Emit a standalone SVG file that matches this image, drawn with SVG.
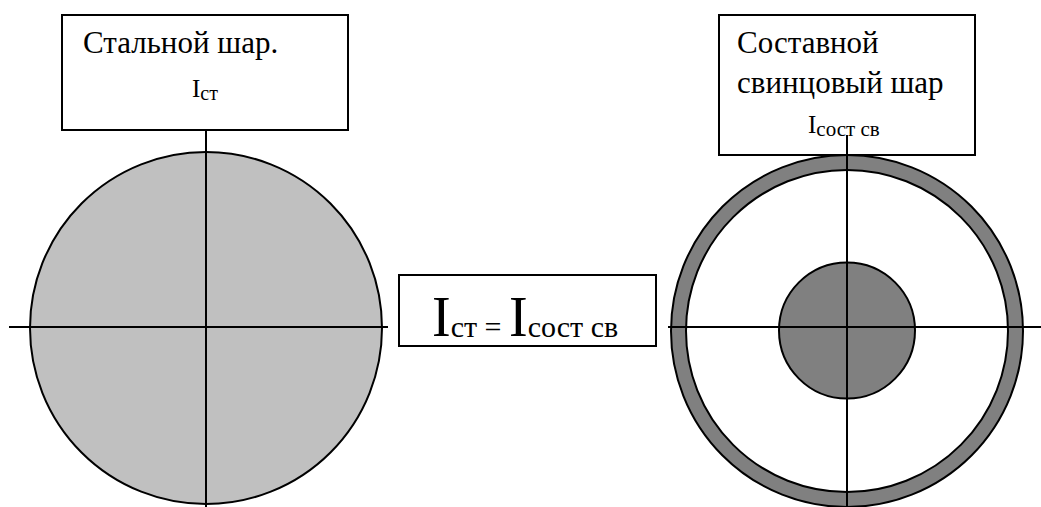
<svg xmlns="http://www.w3.org/2000/svg" width="1041" height="507" viewBox="0 0 1041 507">
  <style>
    .box { fill: #ffffff; stroke: #000000; stroke-width: 2; }
    .edge { stroke: #000000; stroke-width: 2; fill: none; }
    .disc { stroke: #000000; stroke-width: 2; }
    .t { font-family: "Liberation Serif", "Times New Roman", serif; fill: #000000; }
  </style>

  <!-- steel ball -->
  <g id="steel-ball">
    <circle class="disc" cx="206" cy="328" r="176" fill="#c0c0c0"/>
  </g>

  <!-- composite lead ball: outer shell and core -->
  <g id="lead-ball">
    <circle class="disc" cx="847" cy="331" r="176" fill="#808080"/>
    <circle class="disc" cx="847" cy="331" r="161" fill="#ffffff"/>
    <circle class="disc" cx="847" cy="330.5" r="68" fill="#808080"/>
  </g>

  <!-- label boxes -->
  <g id="steel-label">
    <rect class="box" x="62" y="15" width="286" height="115"/>
    <text class="t" x="83" y="53" font-size="31">Стальной шар.</text>
    <text class="t" x="192" y="97" font-size="25">I<tspan font-size="20" dy="3">ст</tspan></text>
  </g>

  <g id="lead-label">
    <rect class="box" x="719" y="15" width="256" height="140"/>
    <text class="t" x="737" y="53" font-size="31">Составной</text>
    <text class="t" x="737" y="93" font-size="31">свинцовый шар</text>
    <text class="t" x="808" y="133" font-size="25">I<tspan font-size="21" dy="3">сост св</tspan></text>
  </g>

  <g id="equality">
    <rect class="box" x="399" y="275" width="257" height="71"/>
    <text class="t" x="432" y="336" font-size="56">I<tspan font-size="30" dy="1">ст = </tspan><tspan dy="-1">I</tspan><tspan font-size="30" dy="1">сост св</tspan></text>
  </g>

  <!-- axes through the ball centres -->
  <g id="connectors">
    <line class="edge" x1="206" y1="130" x2="206" y2="507"/>
    <line class="edge" x1="9" y1="327" x2="388" y2="327"/>
    <line class="edge" x1="847" y1="135" x2="847" y2="507"/>
    <line class="edge" x1="668" y1="327" x2="1041" y2="327"/>
  </g>
</svg>
